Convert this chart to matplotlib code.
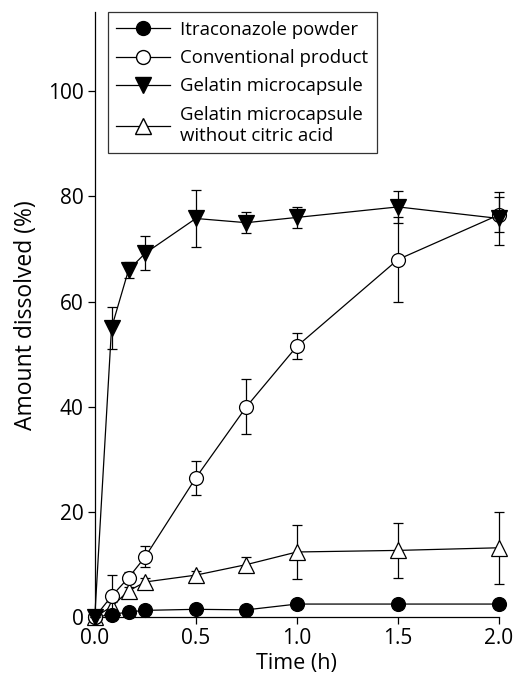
import matplotlib.pyplot as plt
from matplotlib.lines import Line2D

plt.rcParams['font.family'] = ['Open Sans', 'DejaVu Sans']

# data
time = [0, 0.083, 0.167, 0.25, 0.5, 0.75, 1.0, 1.5, 2.0]

powder = [0, 0.5, 1.0, 1.3, 1.5, 1.4, 2.5, 2.5, 2.5]
powder_err = [0, 0.3, 0.3, 0.3, 0.3, 0.3, 0.5, 0.4, 0.4]

conventional = [0, 4.0, 7.5, 11.5, 26.5, 40.0, 51.5, 68.0, 76.5]
conventional_err = [0, 4.0, 1.0, 2.0, 3.2, 5.2, 2.5, 8.0, 3.3]

gelatin = [0, 55.0, 66.0, 69.2, 75.8, 75.0, 76.0, 78.0, 75.8]
gelatin_err = [0, 4.0, 1.5, 3.2, 5.4, 2.0, 2.0, 3.0, 5.0]

no_citric = [0, 2.0, 5.0, 6.7, 8.0, 10.0, 12.4, 12.7, 13.2]
no_citric_err = [0, 0.8, 0.8, 0.8, 0.8, 1.5, 5.2, 5.2, 6.8]

labels = ['Itraconazole powder', 'Conventional product', 'Gelatin microcapsule',
          'Gelatin microcapsule\nwithout citric acid']

fig = plt.figure(figsize=(5.15, 6.82), dpi=100)
ax = fig.add_axes([0.184, 0.095, 0.785, 0.887])

kw = dict(color='black', lw=0.9, capsize=3.5, elinewidth=0.9, capthick=0.9,
          markeredgecolor='black', markeredgewidth=0.9)

ax.errorbar(time, no_citric, yerr=no_citric_err, marker='^', ms=11,
            markerfacecolor='white', zorder=3, **kw)
ax.errorbar(time, powder, yerr=powder_err, marker='o', ms=10,
            markerfacecolor='black', zorder=4, **kw)
ax.errorbar(time, conventional, yerr=conventional_err, marker='o', ms=10,
            markerfacecolor='white', zorder=5, **kw)
ax.errorbar(time, gelatin, yerr=gelatin_err, marker='v', ms=11,
            markerfacecolor='black', zorder=6, **kw)

ax.set_xlim(0, 2.0)
ax.set_ylim(0, 115)
ax.set_xticks([0, 0.5, 1.0, 1.5, 2.0])
ax.set_xticklabels(['0.0', '0.5', '1.0', '1.5', '2.0'])
ax.set_yticks([0, 20, 40, 60, 80, 100])
ax.spines['top'].set_visible(False)
ax.spines['right'].set_visible(False)
for s in ['left', 'bottom']:
    ax.spines[s].set_linewidth(0.9)
ax.tick_params(direction='out', length=5, width=0.9, labelsize=15, pad=3)
ax.set_xlabel('Time (h)', fontsize=15.5, labelpad=3)
ax.set_ylabel('Amount dissolved (%)', fontsize=16.5, labelpad=7)
for c in ax.get_children():
    c.set_clip_on(False)

# legend handles: marker on a line, no error bars
handles = [
    Line2D([], [], color='black', lw=0.9, marker='o', ms=10, mfc='black', mec='black'),
    Line2D([], [], color='black', lw=0.9, marker='o', ms=10, mfc='white', mec='black'),
    Line2D([], [], color='black', lw=0.9, marker='v', ms=11, mfc='black', mec='black'),
    Line2D([], [], color='black', lw=0.9, marker='^', ms=11, mfc='white', mec='black'),
]
leg = ax.legend(handles, labels, loc='upper left',
                bbox_to_anchor=(0.032, 1.0), fontsize=13.4, frameon=True,
                fancybox=False, edgecolor='black', handlelength=2.9,
                borderpad=0.45, labelspacing=0.56, handletextpad=0.55,
                borderaxespad=0.0)
leg.get_frame().set_linewidth(0.9)

fig.savefig('out.png', dpi=100)
